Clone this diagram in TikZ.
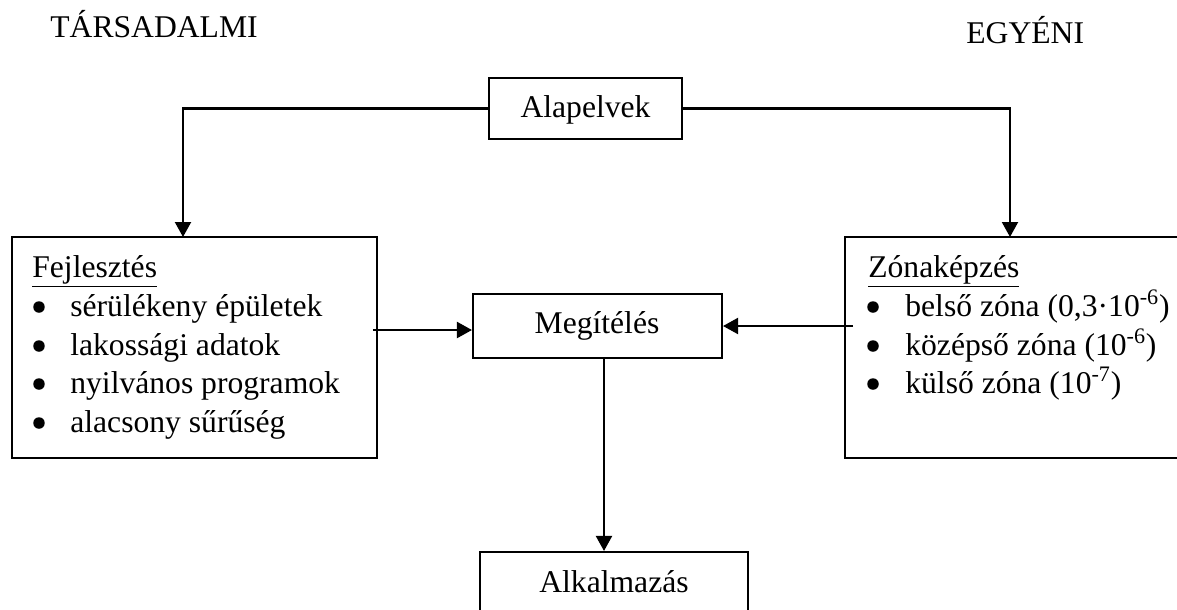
\documentclass[tikz,border=0pt]{standalone}
\usepackage{fontspec}
\setmainfont{Liberation Serif}
\usetikzlibrary{arrows.meta}
\begin{document}
\begin{tikzpicture}[x=0.02cm,y=-0.02cm,
  txt/.style={inner sep=0pt,anchor=base west,font=\fontsize{18}{21}\selectfont},
  bul/.style={circle,fill,inner sep=0pt,minimum size=0.23cm},
  ctxt/.style={inner sep=0pt,anchor=base,font=\fontsize{18}{21}\selectfont},
  box/.style={draw,line width=1.2pt,inner sep=0pt},
  arr/.style={line width=1.2pt,-{Triangle[length=0.3cm,width=0.32cm]}}]
\useasboundingbox (0,0) rectangle (1177,609);
\clip (0,0) rectangle (1177,609);
% headings
\node[txt] (tars) at (50,37) {TÁRSADALMI};
\node[txt] (egy) at (966,43) {EGYÉNI};
% boxes
\node[box,minimum width=3.86cm,minimum height=1.22cm] (alap) at (585.5,108.5) {};
\node[ctxt] (alapt) at (585.5,117) {Alapelvek};
\node[box,minimum width=7.3cm,minimum height=4.42cm] (lbox) at (194.5,347.5) {};
\node[box,minimum width=7.2cm,minimum height=4.42cm] (rbox) at (1025,347.5) {};
\node[box,minimum width=4.98cm,minimum height=1.28cm] (meg) at (597.5,326) {};
\node[ctxt] (megt) at (597,333) {Megítélés};
\node[box,minimum width=5.36cm,minimum height=1.76cm] (alk) at (614,596) {};
\node[ctxt] (alkt) at (614,592) {Alkalmazás};
% left list
\node[txt] (lh) at (32,277) {\underline{Fejlesztés}};
\node[bul] (lb1) at (39,307) {};
\node[bul] (lb2) at (39,346) {};
\node[bul] (lb3) at (39,384) {};
\node[bul] (lb4) at (39,423) {};
\node[txt] (li1) at (70,316) {sérülékeny épületek};
\node[txt] (li2) at (70,355) {lakossági adatok};
\node[txt] (li3) at (70,393) {nyilvános programok};
\node[txt] (li4) at (70,432) {alacsony sűrűség};
% right list
\node[txt] (rh) at (868,277) {\underline{Zónaképzés}};
\node[bul] (rb1) at (873,307) {};
\node[bul] (rb2) at (873,346) {};
\node[bul] (rb3) at (873,384) {};
\node[txt] (ri1) at (905,316) {belső zóna (0,3·10\textsuperscript{-6})};
\node[txt] (ri2) at (905,355) {középső zóna (10\textsuperscript{-6})};
\node[txt] (ri3) at (905,393) {külső zóna (10\textsuperscript{-7})};
% connector coordinates
\coordinate (lin) at (183,237);
\coordinate (rin) at (1010,237);
\coordinate (lout) at (373,330);
\coordinate (rout) at (853,326);
\coordinate (mout) at (604,358);
% connectors
\draw[arr] (alap.west) -| (lin);
\draw[arr] (alap.east) -| (rin);
\draw[arr] (lout) -- (lout -| meg.west);
\draw[arr] (rout) -- (meg.east);
\draw[arr] (mout) -- (mout |- alk.north);
\end{tikzpicture}
\end{document}
